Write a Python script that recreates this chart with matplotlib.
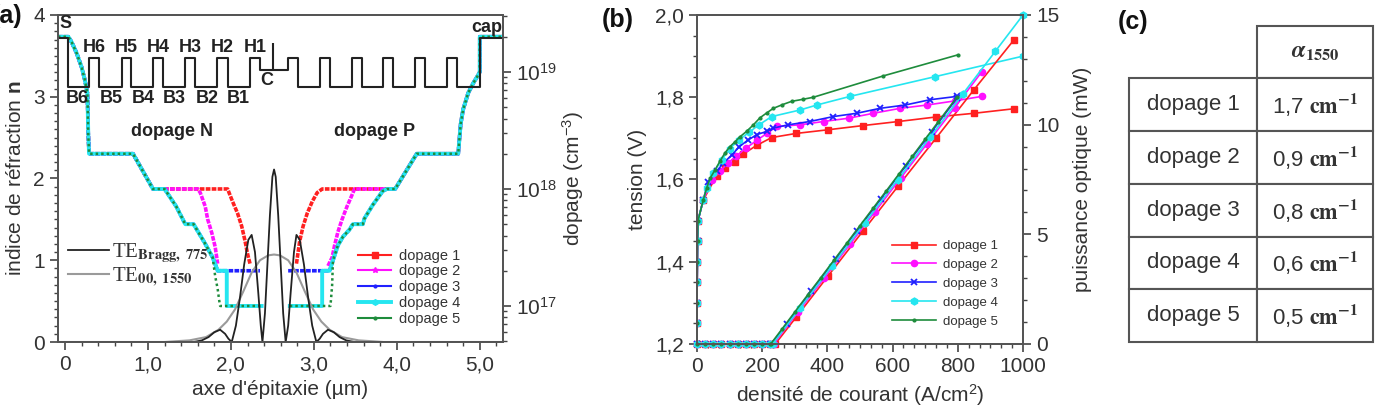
import matplotlib
matplotlib.use("Agg")
import matplotlib.pyplot as plt
import numpy as np
from matplotlib.lines import Line2D
from matplotlib.font_manager import FontProperties
from matplotlib.ticker import MultipleLocator, FuncFormatter, LogLocator, NullFormatter

plt.rcParams['font.family'] = ['Liberation Sans', 'DejaVu Sans']
plt.rcParams['mathtext.fontset'] = 'custom'
plt.rcParams['mathtext.rm'] = 'Liberation Sans'
plt.rcParams['mathtext.it'] = 'Liberation Sans:italic'
plt.rcParams['mathtext.bf'] = 'Liberation Sans:bold'

# ---------------- (a) structure : frontières des couches (µm) et indice
couches_x = [-0.085, 0.036, 0.29, 0.41, 0.69, 0.80, 1.06, 1.18, 1.45, 1.57, 1.83, 1.96, 2.23, 2.35,
             2.69, 2.81, 3.07, 3.19, 3.46, 3.58, 3.83, 3.95, 4.22, 4.34, 4.61, 4.73, 5.00, 5.28]
couches_n = [3.72,
             3.12, 3.47, 3.12, 3.47, 3.12, 3.47, 3.12, 3.47, 3.12, 3.47, 3.12, 3.47,
             3.33,
             3.47, 3.12, 3.47, 3.12, 3.47, 3.12, 3.47, 3.12, 3.47, 3.12, 3.47, 3.12,
             3.72]

# modes (intensité, unités de l'axe n)
te_bragg_x = [-0.085, 1.55, 1.65, 1.73, 1.80, 1.87, 1.93, 1.97, 2.01, 2.06, 2.11, 2.16, 2.21, 2.25,
              2.29, 2.33, 2.36, 2.38, 2.41, 2.44, 2.47, 2.50, 2.52, 2.54, 2.57, 2.60, 2.63, 2.66,
              2.69, 2.72, 2.76, 2.79, 2.83, 2.88, 2.93, 2.98, 3.03, 3.07, 3.11, 3.17, 3.24, 3.31,
              3.39, 3.49, 5.28]
te_bragg_n = [0, 0, 0.02, 0.06, 0.12, 0.15, 0.10, 0.04, 0, 0.2, 0.55, 0.95, 1.25, 1.31,
              1.1, 0.6, 0.2, 0, 0.35, 0.95, 1.55, 2.02, 2.11, 2.02, 1.55, 0.95, 0.35, 0,
              0.2, 0.6, 1.1, 1.31, 1.25, 0.95, 0.55, 0.2, 0, 0.04, 0.10, 0.15, 0.12, 0.06,
              0.02, 0, 0]
te00_x = [-0.085, 1.2, 1.5, 1.7, 1.85, 1.95, 2.05, 2.15, 2.25, 2.35, 2.45, 2.52, 2.59, 2.69,
          2.79, 2.89, 2.99, 3.09, 3.19, 3.34, 3.54, 3.84, 5.28]
te00_n = [0, 0, 0.02, 0.06, 0.15, 0.25, 0.40, 0.62, 0.85, 1.0, 1.06, 1.07, 1.06, 1.0,
          0.85, 0.62, 0.40, 0.25, 0.15, 0.06, 0.02, 0, 0]

# dopage (cm-3) : parties communes
dop_n_x = [-0.085, 0.04, 0.08, 0.14, 0.20, 0.24, 0.27, 0.28, 0.29, 0.82, 1.06, 1.20]
dop_n_d = [2e19, 2e19, 1.8e19, 1.45e19, 1.1e19, 8.5e18, 6.6e18, 3.0e18, 2e18, 2e18, 1e18, 1e18]
dop_p_x = [3.98, 4.24, 4.74, 4.75, 4.77, 4.80, 4.86, 4.92, 4.98, 5.00, 5.00, 5.28]
dop_p_d = [1e18, 2e18, 2e18, 2.45e18, 3.6e18, 4.8e18, 6.6e18, 8e18, 9.4e18, 1e19, 2e19, 2e19]
desc_x = [1.20, 1.34, 1.45, 1.55, 1.68, 1.78, 1.84]
desc_d = [1e18, 7.1e17, 5e17, 5e17, 3.5e17, 2.6e17, 2e17]
rise_x = [3.19, 3.23, 3.29, 3.35, 3.43, 3.47, 3.59, 3.61, 3.71, 3.83, 3.88]
rise_d = [2e17, 2.45e17, 3.3e17, 3.9e17, 4.5e17, 5e17, 5e17, 5.6e17, 7.3e17, 9.6e17, 1e18]

nan = np.nan
dop1_x = dop_n_x + [1.96, 2.02, 2.08, 2.13, 2.17, 2.20, 2.23, nan,
                    2.79, 2.83, 2.87, 2.92, 2.98, 3.04, 3.10] + dop_p_x
dop1_d = dop_n_d + [1e18, 7.8e17, 6.2e17, 4.8e17, 3.6e17, 2.8e17, 2.3e17, nan,
                    2.3e17, 3.6e17, 4.8e17, 6.2e17, 7.8e17, 9.3e17, 1e18] + dop_p_d
dop2_x = dop_n_x + [1.60, 1.63, 1.69, 1.72, 1.77, 1.81, 1.84, nan,
                    3.17, 3.22, 3.25, 3.29, 3.34, 3.40, 3.46, 3.49] + dop_p_x
dop2_d = dop_n_d + [1e18, 9.3e17, 7.1e17, 5.5e17, 4.2e17, 3.2e17, 2.3e17, nan,
                    2.2e17, 2.6e17, 3.3e17, 4.3e17, 5.5e17, 7.1e17, 8.9e17, 1e18] + dop_p_d
dop3_x = dop_n_x + desc_x[1:] + [2.35, nan, 2.69] + rise_x + dop_p_x
dop3_d = dop_n_d + desc_d[1:] + [2e17, nan, 2e17] + rise_d + dop_p_d
dop4_x = dop_n_x + desc_x[1:] + [1.95, 1.95, 2.37, nan, 2.71, 3.10, 3.10] + rise_x + dop_p_x
dop4_d = dop_n_d + desc_d[1:] + [2e17, 1e17, 1e17, nan, 1e17, 1e17, 2e17] + rise_d + dop_p_d
dop5_x = dop_n_x + desc_x[1:-1] + [1.81, 1.84, 1.86, 1.87, 2.37, nan,
                                    2.71, 3.20, 3.22] + rise_x[1:] + dop_p_x
dop5_d = dop_n_d + desc_d[1:-1] + [1.8e17, 1.4e17, 1.1e17, 1e17, 1e17, nan,
                                    1e17, 1e17, 1.5e17] + rise_d[1:] + dop_p_d

# ---------------- (b) tension et puissance
J_bas = [0, 0, 0, 0.5, 1, 1.5, 3, 19]
V_bas = [1.20, 1.25, 1.30, 1.35, 1.40, 1.45, 1.50, 1.55]
J1 = J_bas + [60, 86, 117, 142, 183, 229, 304, 403, 508, 618, 733, 850, 972]
V1 = V_bas + [1.609, 1.627, 1.642, 1.662, 1.683, 1.702, 1.712, 1.721, 1.731, 1.741, 1.752, 1.761, 1.772]
J2 = J_bas + [45, 70, 95, 120, 150, 183, 214, 245, 316, 388, 465, 541, 623, 705, 790, 873]
V2 = V_bas + [1.598, 1.62, 1.64, 1.657, 1.676, 1.695, 1.712, 1.729, 1.733, 1.741, 1.749, 1.761,
              1.773, 1.781, 1.791, 1.802]
J3 = J_bas + [34, 60, 81, 107, 130, 155, 183, 214, 234, 280, 346, 418, 490, 561, 638, 715, 797]
V3 = V_bas + [1.595, 1.62, 1.640, 1.66, 1.68, 1.695, 1.709, 1.717, 1.725, 1.733, 1.741, 1.753,
              1.761, 1.773, 1.781, 1.794, 1.802]
J4 = J_bas + [30, 50, 76, 100, 130, 160, 190, 229, 316, 367, 469, 730, 1000]
V4 = V_bas + [1.579, 1.616, 1.648, 1.675, 1.697, 1.715, 1.733, 1.753, 1.769, 1.781, 1.802, 1.850, 1.900]
J5 = J_bas + [30, 40, 55, 70, 86, 101, 117, 132, 152, 173, 193, 214, 234, 262, 290, 325, 357, 572, 800]
V5 = V_bas + [1.58, 1.603, 1.623, 1.644, 1.665, 1.68, 1.692, 1.704, 1.717, 1.733, 1.75, 1.762,
              1.773, 1.782, 1.79, 1.795, 1.80, 1.852, 1.903]

J_zero = [0, 25, 50, 75, 100, 125, 150, 175, 200, 225]
P_zero = [0] * len(J_zero)
JP1 = J_zero + [240, 304, 403, 508, 617, 733, 850, 972]
P1 = P_zero + [0, 1.22, 3.12, 5.13, 7.2, 9.38, 11.6, 13.86]
JP2 = J_zero + [235, 310, 390, 470, 545, 625, 705, 790, 873]
P2 = P_zero + [0, 1.46, 3.0, 4.56, 6.01, 7.57, 9.12, 10.77, 12.4]
JP3 = J_zero + [228, 275, 350, 425, 490, 565, 640, 720, 797]
P3 = P_zero + [0, 0.92, 2.4, 3.88, 5.16, 6.63, 8.11, 9.68, 11.2]
JP4 = J_zero + [232, 315, 415, 515, 615, 715, 815, 915, 1000]
P4 = P_zero + [0, 1.62, 3.57, 5.53, 7.48, 9.43, 11.39, 13.34, 15.0]
JP5 = J_zero + [226, 260, 300, 340, 380, 420, 460, 500, 540, 580, 620, 660, 700, 740, 797]
P5 = P_zero + [0, 0.67, 1.46, 2.25, 3.03, 3.82, 4.61, 5.40, 6.19, 6.97, 7.76, 8.55, 9.34, 10.13, 11.25]

# ---------------- (c) pertes
noms = ['dopage 1', 'dopage 2', 'dopage 3', 'dopage 4', 'dopage 5']
alpha_1550 = [1.7, 0.9, 0.8, 0.6, 0.5]

couleurs = ['#ff2020', '#ff10ff', '#2020ff', '#25e6f0', '#1e8c3c']
gris = '#333333'
virgule = lambda v, p: ('0' if v == 0 else f'{v:.1f}'.replace('.', ','))

fig = plt.figure(figsize=(13.8, 4.13), dpi=100)

# ======================= (a)
ax_a = fig.add_axes([0.0420, 0.1719, 0.3225, 0.7918])
ax_a2 = ax_a.twinx()
ax_a.set_zorder(ax_a2.get_zorder() + 1)
ax_a.patch.set_visible(False)

style_dop = [
    dict(lw=2.6, ls=(0, (1.3, 0.35))),
    dict(lw=2.6, ls=(0, (1.3, 0.35))),
    dict(lw=2.6, ls=(0, (1.3, 0.35))),
    dict(lw=2.8, ls='-'),
    dict(lw=1.8, ls=(0, (1, 1.2))),
]
for xs, ds, c, st in zip([dop1_x, dop2_x, dop3_x, dop4_x, dop5_x],
                         [dop1_d, dop2_d, dop3_d, dop4_d, dop5_d], couleurs, style_dop):
    ax_a2.plot(xs, ds, color=c, **st)
ax_a2.set_yscale('log')
ax_a2.set_ylim(10 ** 16.692, 10 ** 19.487)
ax_a2.yaxis.set_major_locator(LogLocator(base=10, numticks=10))
ax_a2.yaxis.set_minor_locator(LogLocator(base=10, subs=np.arange(2, 10), numticks=20))
ax_a2.yaxis.set_minor_formatter(NullFormatter())
ax_a2.set_ylabel('dopage (cm$^{-3}$)', fontsize=15, color=gris, labelpad=2)

ax_a.plot(couches_x, couches_n + [couches_n[-1]], drawstyle='steps-post', color='#222222', lw=1.5)
ax_a.vlines(2.51, 3.33, 3.66, color='#222222', lw=1.5)
ax_a.plot(te00_x, te00_n, color='#9a9a9a', lw=1.5)
ax_a.plot(te_bragg_x, te_bragg_n, color='#222222', lw=1.3)

ax_a.set_xlim(-0.085, 5.28)
ax_a.set_ylim(0, 4)
ax_a.xaxis.set_major_locator(MultipleLocator(1))
ax_a.xaxis.set_minor_locator(MultipleLocator(0.2))
ax_a.xaxis.set_major_formatter(FuncFormatter(virgule))
ax_a.yaxis.set_major_locator(MultipleLocator(1))
ax_a.yaxis.set_minor_locator(MultipleLocator(0.1))
ax_a.set_xlabel("axe d'épitaxie (µm)", fontsize=15, color=gris, labelpad=4)
ax_a.set_ylabel(r'indice de réfraction $\mathbf{n}$', fontsize=15, color=gris, labelpad=6)

etiquettes = [('S', -0.07, 3.90), ('H6', 0.35, 3.60), ('H5', 0.74, 3.60), ('H4', 1.12, 3.60),
              ('H3', 1.51, 3.60), ('H2', 1.90, 3.60), ('H1', 2.29, 3.60),
              ('B6', 0.15, 2.98), ('B5', 0.56, 2.98), ('B4', 0.94, 2.98), ('B3', 1.32, 2.98),
              ('B2', 1.71, 2.98), ('B1', 2.09, 2.98), ('C', 2.43, 3.20), ('cap', 5.08, 3.85),
              ('dopage N', 1.29, 2.57), ('dopage P', 3.73, 2.57)]
for txt, xx, yy in etiquettes:
    ax_a.text(xx, yy, txt, ha='left' if txt == 'S' else 'center', va='center',
              fontsize=13, fontweight='bold', color='#222222')

h_te = [Line2D([], [], color='#222222', lw=1.3), Line2D([], [], color='#9a9a9a', lw=1.5)]
leg_te = ax_a.legend(h_te, [r'TE$_{\mathbf{Bragg,\ 775}}$', r'TE$_{\mathbf{00,\ 1550}}$'],
                     loc='upper left', bbox_to_anchor=(0.022, 0.31), frameon=False,
                     prop=FontProperties(family='Liberation Serif', size=15, math_fontfamily='stix'),
                     handlelength=2.0, handletextpad=0.1, labelspacing=0.05,
                     borderpad=0, borderaxespad=0, labelcolor=gris)
ax_a.add_artist(leg_te)
marq_a = ['s', '*', '.', 'h', '.']
lw_a = [1.5, 1.5, 1.5, 2.8, 1.5]
h_dop = [Line2D([], [], color=c, lw=l, marker=m, ms=4) for c, m, l in zip(couleurs, marq_a, lw_a)]
ax_a.legend(h_dop, noms, loc='lower left', bbox_to_anchor=(0.674, 0.05), frameon=False,
            fontsize=10.5, handlelength=2.3, handletextpad=0.5, labelspacing=0.12,
            borderpad=0, borderaxespad=0, labelcolor=gris)

# ======================= (b)
ax_b = fig.add_axes([0.5051, 0.1671, 0.2362, 0.7966])
ax_b2 = ax_b.twinx()
marq_b = [dict(marker='s', ms=4.5), dict(marker='o', ms=4.5), dict(marker='x', ms=4.5, mew=1.3),
          dict(marker='h', ms=5), dict(marker='.', ms=4)]
for J, V, c, mk in zip([J1, J2, J3, J4, J5], [V1, V2, V3, V4, V5], couleurs, marq_b):
    ax_b.plot(J, V, color=c, lw=1.2, **mk)
for J, P, c, mk in zip([JP1, JP2, JP3, JP4, JP5], [P1, P2, P3, P4, P5], couleurs, marq_b):
    ax_b2.plot(J, P, color=c, lw=1.2, clip_on=False, **mk)

ax_b.set_xlim(0, 1000)
ax_b.set_ylim(1.2, 2.0)
ax_b2.set_ylim(0, 15)
ax_b.xaxis.set_major_locator(MultipleLocator(200))
ax_b.xaxis.set_minor_locator(MultipleLocator(200 / 6))
ax_b.yaxis.set_major_locator(MultipleLocator(0.2))
ax_b.yaxis.set_minor_locator(MultipleLocator(0.05))
ax_b.yaxis.set_major_formatter(FuncFormatter(virgule))
ax_b2.yaxis.set_major_locator(MultipleLocator(5))
ax_b2.yaxis.set_minor_locator(MultipleLocator(1))
ax_b.set_xlabel('densité de courant (A/cm$^2$)', fontsize=15, color=gris, labelpad=4)
ax_b.set_ylabel('tension (V)', fontsize=15, color=gris, labelpad=6)
ax_b2.set_ylabel('puissance optique (mW)', fontsize=15, color=gris, labelpad=10)
h_b = [Line2D([], [], color=c, lw=1.2, **mk) for c, mk in zip(couleurs, marq_b)]
ax_b.legend(h_b, noms, loc='lower left', bbox_to_anchor=(0.598, 0.05), frameon=False,
            fontsize=9.5, handlelength=3.3, handletextpad=0.6, labelspacing=0.5,
            borderpad=0, borderaxespad=0, labelcolor=gris)

for ax in [ax_a, ax_a2, ax_b, ax_b2]:
    for sp in ax.spines.values():
        sp.set_color('#555555')
        sp.set_linewidth(1.4)
    ax.tick_params(which='major', labelsize=15, length=6, width=1.2, color='#444444', labelcolor=gris)
    ax.tick_params(which='minor', length=3, width=1.0, color='#444444')

# ======================= (c)
ax_c = fig.add_axes([0.818, 0.172, 0.177, 0.766])
ax_c.axis('off')
cellules = [['', r'$\boldsymbol{\alpha}_{\mathbf{1550}}$']] + \
           [[n, f'{a:.1f}'.replace('.', ',') + r' $\mathbf{cm^{-1}}$'] for n, a in zip(noms, alpha_1550)]
tab = ax_c.table(cellText=cellules, cellLoc='center', bbox=[0, 0, 1, 1], colWidths=[0.525, 0.475])
tab.auto_set_font_size(False)
for (r, c), cell in tab.get_celld().items():
    cell.set_edgecolor('#555555')
    cell.set_linewidth(1.5)
    t = cell.get_text()
    t.set_fontsize(16)
    t.set_color(gris)
    t.set_math_fontfamily('stix')
    if r == 0 and c == 0:
        cell.visible_edges = ''
    if r == 0 and c == 1:
        t.set_fontsize(17)

fig.text(-0.0058, 1 - 4 / 413, '(a)', fontsize=18, fontweight='bold', va='top', color='#111111')
fig.text(602 / 1380, 1 - 8 / 413, '(b)', fontsize=18, fontweight='bold', va='top', color='#111111')
fig.text(1118 / 1380, 1 - 10 / 413, '(c)', fontsize=18, fontweight='bold', va='top', color='#111111')

fig.savefig('out.png', dpi=100)
